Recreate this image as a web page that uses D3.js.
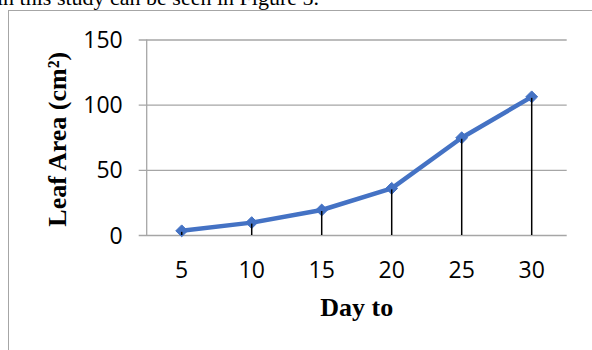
<!DOCTYPE html>
<html>
<head>
<meta charset="utf-8">
<script src="https://cdn.jsdelivr.net/npm/d3@7"></script>
<style>
  html, body { margin: 0; padding: 0; background: #fff; }
  svg { display: block; }
</style>
</head>
<body>
<svg id="chart" width="592" height="350"></svg>
<script>
// Leaf area by day
const days = ["5", "10", "15", "20", "25", "30"];
const leafArea = [3.2, 9.5, 19.2, 35.8, 74.6, 106];
const yTicks = [0, 50, 100, 150];

const svg = d3.select("#chart");
const W = 592, H = 350;

// Running text line above the figure frame
svg.append("text")
  .attr("x", -3).attr("y", 5)
  .attr("font-family", "'Liberation Serif', 'Times New Roman', serif")
  .attr("font-size", 22)
  .attr("fill", "#000")
  .text("in this study can be seen in Figure 5.");

// Figure frame (extends past the right and bottom edges)
svg.append("rect")
  .attr("x", 8.5).attr("y", 10.5)
  .attr("width", 700).attr("height", 400)
  .attr("fill", "none")
  .attr("stroke", "#a6a6a6")
  .attr("stroke-width", 1);

const plot = { left: 146.7, right: 566.7, top: 39.5, bottom: 235 };

const x = d3.scaleBand().domain(days).range([plot.left, plot.right]).padding(0);
const y = d3.scaleLinear().domain([0, 150]).range([plot.bottom, plot.top]);

// Horizontal gridlines with outside tick marks
const yAxis = d3.axisLeft(y).tickValues(yTicks).tickSize(-(plot.right - plot.left)).tickPadding(16);
const gy = svg.append("g").attr("transform", `translate(${plot.left},0)`).call(yAxis);
gy.select(".domain").remove();
gy.selectAll(".tick line")
  .attr("x1", -8)
  .attr("stroke", "#a6a6a6")
  .attr("stroke-width", 1.3);
gy.selectAll(".tick text")
  .attr("font-family", "'Open Sans', 'Noto Sans', sans-serif")
  .attr("font-size", 23)
  .attr("fill", "#000")
  .attr("x", -24)
  .attr("dy", "0.35em");

// Vertical axis line
svg.append("line")
  .attr("x1", plot.left).attr("x2", plot.left)
  .attr("y1", plot.top).attr("y2", plot.bottom)
  .attr("stroke", "#a6a6a6").attr("stroke-width", 1.3);

// Category labels along the bottom
const xAxis = d3.axisBottom(x).tickSize(0).tickPadding(0);
const gx = svg.append("g").attr("transform", `translate(0,${plot.bottom})`).call(xAxis);
gx.select(".domain").remove();
gx.selectAll(".tick text")
  .attr("font-family", "'Open Sans', 'Noto Sans', sans-serif")
  .attr("font-size", 23)
  .attr("fill", "#000")
  .attr("dy", 0)
  .attr("y", 43);

const cx = d => x(d) + x.bandwidth() / 2;

// Series line
const line = d3.line().x((d, i) => cx(days[i])).y(d => y(d));
svg.append("path")
  .datum(leafArea)
  .attr("d", line)
  .attr("fill", "none")
  .attr("stroke", "#4472C4")
  .attr("stroke-width", 4.5)
  .attr("stroke-linejoin", "round");

// Diamond markers
const diamond = d3.symbol().type(d3.symbolDiamond2).size(90);
svg.append("g").selectAll("path")
  .data(leafArea)
  .join("path")
  .attr("d", diamond)
  .attr("transform", (d, i) => `translate(${cx(days[i])},${y(d)}) rotate(0)`)
  .attr("fill", "#4472C4")
  .attr("stroke", "#4472C4")
  .attr("stroke-width", 1);

// Drop lines from each point to the baseline
svg.append("g").selectAll("line")
  .data(leafArea)
  .join("line")
  .attr("x1", (d, i) => cx(days[i]))
  .attr("x2", (d, i) => cx(days[i]))
  .attr("y1", d => y(d) + 1)
  .attr("y2", y(0))
  .attr("stroke", "#000")
  .attr("stroke-width", 1.5);

// Axis titles
svg.append("text")
  .attr("x", (plot.left + plot.right) / 2)
  .attr("y", 316)
  .attr("text-anchor", "middle")
  .attr("font-family", "'Liberation Serif', 'Times New Roman', serif")
  .attr("font-weight", "bold")
  .attr("font-size", 26)
  .attr("fill", "#000")
  .text("Day to");

svg.append("text")
  .attr("transform", `translate(66,${(plot.top + plot.bottom) / 2 + 2}) rotate(-90)`)
  .attr("text-anchor", "middle")
  .attr("font-family", "'Liberation Serif', 'Times New Roman', serif")
  .attr("font-weight", "bold")
  .attr("font-size", 26)
  .attr("fill", "#000")
  .text("Leaf Area (cm²)");
</script>
</body>
</html>
